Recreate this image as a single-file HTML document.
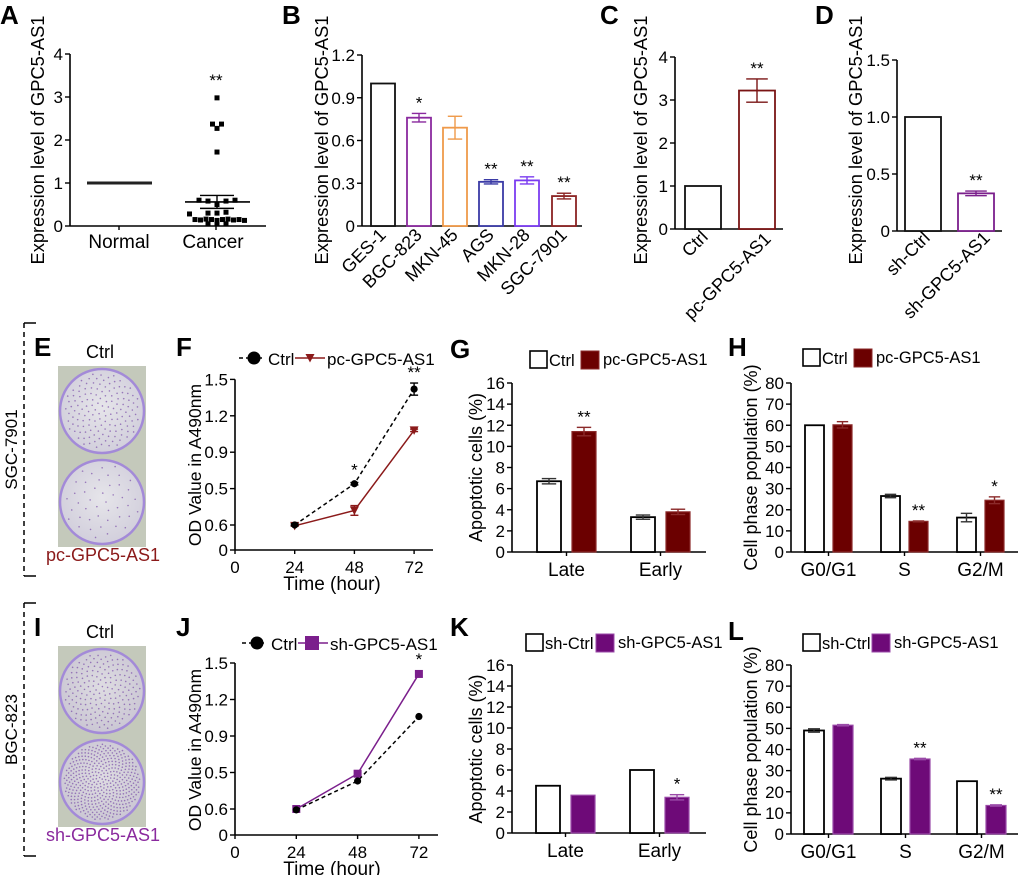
<!DOCTYPE html>
<html><head><meta charset="utf-8"><style>
html,body{margin:0;padding:0;background:#fff;}
svg{display:block;font-family:"Liberation Sans",Arial,sans-serif;}
</style></head><body>
<svg id="fig" width="1020" height="875" viewBox="0 0 1020 875" xmlns="http://www.w3.org/2000/svg">
<defs>
<radialGradient id="dishE" cx="50%" cy="45%" r="55%"><stop offset="0" stop-color="#e6e5ea"/><stop offset="1" stop-color="#d2cfdc"/></radialGradient>
<radialGradient id="dishI" cx="50%" cy="45%" r="55%"><stop offset="0" stop-color="#dedce2"/><stop offset="1" stop-color="#cbc7d4"/></radialGradient>
</defs>
</svg>
<script>
// ---------- data ----------
const cancerVals=[2.98,2.37,2.27,2.37,1.72,0.6,0.58,0.5,0.58,0.6,0.3,0.28,0.3,0.32,0.15,0.14,0.16,0.15,0.13,0.15,0.16,0.14,0.15,0.13,0.05,0.06,0.05];
const normalVal=1.0, cancerMean=0.56, cancerSem=0.15;
const bCats=["GES-1","BGC-823","MKN-45","AGS","MKN-28","SGC-7901"];
const bVals=[1.0,0.76,0.69,0.31,0.32,0.21];
const bErr=[0,0.03,0.08,0.015,0.025,0.02];
const bStars=["","*","","**","**","**"];
const cCats=["Ctrl","pc-GPC5-AS1"], cVals=[1.0,3.22], cErr=[0,0.27];
const dCats=["sh-Ctrl","sh-GPC5-AS1"], dVals=[1.0,0.33], dErr=[0,0.02];
const hours=[24,48,72];
const fCtrl=[0.6,0.94,1.72], fCtrlErr=[0.01,0.01,0.05];
const fPc=[0.58,0.72,1.38], fPcErr=[0.01,0.04,0.01];
const jCtrl=[0.58,0.83,1.36], jSh=[0.6,0.89,1.71];
const odTickVals=[0,0.6,0.9,1.2,1.5,1.8];
const odTickLabels=["0","0.6","0.5","0.9","1.2","1.5"];
const apoCats=["Late","Early"];
const gCtrl=[6.7,3.3], gCtrlErr=[0.25,0.2], gPc=[11.4,3.8], gPcErr=[0.4,0.25];
const kCtrl=[4.5,6.0], kSh=[3.6,3.4], kShErr=[0,0.25];
const cycCats=["G0/G1","S","G2/M"];
const hCtrl=[60,26.5,16.3], hCtrlErr=[0,0.8,2.0], hPc=[60.2,14.5,24.5], hPcErr=[1.5,0.2,1.6];
const lCtrl=[49,26.2,25], lCtrlErr=[0.8,0.6,0], lSh=[51.5,35.5,13.5], lShErr=[0.3,0.3,0.3];

// ---------- helpers ----------
const NS="http://www.w3.org/2000/svg";
const svg=document.getElementById('fig');
function mk(tag,a){const e=document.createElementNS(NS,tag);for(const k in a)e.setAttribute(k,a[k]);svg.appendChild(e);return e;}
function txt(x,y,s,size,o,name){o=o||{};
 const e=mk('text',{x:x,y:y,'font-size':size,fill:o.fill||'#000','text-anchor':o.anchor||'start','font-weight':o.weight||'normal'});
 if(o.rot!==undefined)e.setAttribute('transform','rotate('+o.rot+' '+x+' '+y+')');
 e.textContent=s;
 
 
 return e;}
function ln(x1,y1,x2,y2,st,w,name,dash){const e=mk('line',{x1:x1,y1:y1,x2:x2,y2:y2,stroke:st,'stroke-width':w});
 if(dash)e.setAttribute('stroke-dasharray',dash);
 
 
 return e;}
function rc(x,y,w,h,fill,st,sw,name){const e=mk('rect',{x:x,y:y,width:w,height:h,fill:fill,stroke:st,'stroke-width':sw});
 
 
 return e;}
function letter(x,y,s){txt(x,y,s,26,{weight:'bold'},'panel-label-'+s.toLowerCase());}
function errbar(cx,yHi,yLo,half,col,name){
 ln(cx,yHi,cx,yLo,col,1.4,name+'-stem');
 ln(cx-half,yHi,cx+half,yHi,col,1.4,name+'-cap-top');
 ln(cx-half,yLo,cx+half,yLo,col,1.4,name+'-cap-bottom');}
function yAxis(ax,y0,yTop,vals,labels,ymap,size,name){
 ln(ax,y0,ax,yTop,'#000',1.6,name+'-line');
 vals.forEach((v,i)=>{const y=ymap(v);
  ln(ax-5,y,ax,y,'#000',1.4,name+'-tick');
  txt(ax-7,y+6,labels[i],size,{anchor:'end'},name+'-tick-label');});}

// ---------- Panel A ----------
letter(0,24,'A');
(function(){const ax=70,y0=226,sc=43,ym=v=>y0-v*sc;
 yAxis(ax,y0,54,[0,1,2,3,4],["0","1","2","3","4"],ym,17,'a-y-axis');
 ln(ax,y0,266,y0,'#000',1.6,'a-x-axis');
 ln(119,y0,119,y0+4,'#000',1.4,'a-x-tick');ln(216,y0,216,y0+4,'#000',1.4,'a-x-tick');
 txt(119,248,'Normal',19,{anchor:'middle'},'a-x-label-normal');
 txt(213,248,'Cancer',19,{anchor:'middle'},'a-x-label-cancer');
 txt(44,140,'Expression level of GPC5-AS1',18.3,{anchor:'middle',rot:-90},'a-y-axis-title');
 ln(87,ym(normalVal),152,ym(normalVal),'#222',3,'a-normal-points');
 const groups={};
 cancerVals.forEach(v=>{const k=Math.round(v*5);groups[k]=(groups[k]||0)+1;});
 const seen={};
 cancerVals.forEach(v=>{const k=Math.round(v*5);const n=groups[k];seen[k]=(seen[k]||0);const i=seen[k]++;
  const x=217+(i-(n-1)/2)*(n>6?5.5:9);
  rc(x-2.5,ym(v)-2.5,5,5,'#000','none',0,'a-cancer-point');});
 ln(185,ym(cancerMean),250,ym(cancerMean),'#000',1.6,'a-mean-line');
 errbar(217,ym(cancerMean+cancerSem),ym(cancerMean-cancerSem),17,'#000','a-sem');
 txt(216,86,'**',17,{anchor:'middle'},'a-significance');
})();

// ---------- generic bar panel ----------
function barPanel(cfg){
 const ym=v=>cfg.y0-v/cfg.max*(cfg.y0-cfg.yTop);
 yAxis(cfg.ax,cfg.y0,cfg.yTop,cfg.tickVals,cfg.tickLabels,ym,cfg.fs||17,cfg.id+'-y-axis');
 ln(cfg.ax,cfg.y0,cfg.xEnd,cfg.y0,'#000',1.6,cfg.id+'-x-axis');
 cfg.vals.forEach((v,i)=>{const x1=cfg.x1[i],w=cfg.w,col=cfg.cols[i];
  const fill=cfg.fills?cfg.fills[i]:'#fff';
  rc(x1,ym(v),w,cfg.y0-ym(v),fill,col,1.8,cfg.id+'-bar-'+i);
  if(cfg.err&&cfg.err[i]>0)errbar(x1+w/2,ym(v+cfg.err[i]),ym(v-cfg.err[i]),w*0.3,col,cfg.id+'-error-'+i);
  if(cfg.stars&&cfg.stars[i])txt(x1+w/2,ym(v+(cfg.err?cfg.err[i]:0))-5,cfg.stars[i],17,{anchor:'middle'},cfg.id+'-significance-'+i);
 });
 return ym;}

// ---------- Panel B ----------
letter(282,24,'B');
(function(){const x1=[371,407,443,479,515,552];
 barPanel({id:'b',ax:362,y0:226,yTop:55,max:1.2,tickVals:[0,0.3,0.6,0.9,1.2],tickLabels:["0","0.3","0.6","0.9","1.2"],xEnd:582,
  vals:bVals,err:bErr,stars:bStars,x1:x1,w:24,cols:['#111','#8a2a9e','#ef9a4a','#3b3ba6','#7b3cf0','#8b2323'],fs:17});
 bCats.forEach((c,i)=>txt(x1[i]+16,236,c,18,{anchor:'end',rot:-45},'b-x-label'));
 txt(328,140,'Expression level of GPC5-AS1',18.3,{anchor:'middle',rot:-90},'b-y-axis-title');
})();

// ---------- Panel C ----------
letter(600,24,'C');
(function(){barPanel({id:'c',ax:675,y0:229,yTop:57,max:4,tickVals:[0,1,2,3,4],tickLabels:["0","1","2","3","4"],xEnd:783,
  vals:cVals,err:cErr,stars:["","**"],x1:[685,739],w:36,cols:['#111','#7a1414'],fs:17});
 txt(709,238,cCats[0],18,{anchor:'end',rot:-45},'c-x-label');
 txt(772,240,cCats[1],18,{anchor:'end',rot:-45},'c-x-label');
 txt(647,140,'Expression level of GPC5-AS1',18.3,{anchor:'middle',rot:-90},'c-y-axis-title');
})();

// ---------- Panel D ----------
letter(815,24,'D');
(function(){barPanel({id:'d',ax:897,y0:231,yTop:60,max:1.5,tickVals:[0,0.5,1.0,1.5],tickLabels:["0","0.5","1.0","1.5"],xEnd:1002,
  vals:dVals,err:dErr,stars:["","**"],x1:[905,958],w:36,cols:['#111','#7b1f8c'],fs:17});
 txt(931,239,dCats[0],18,{anchor:'end',rot:-45},'d-x-label');
 txt(991,239,dCats[1],18,{anchor:'end',rot:-45},'d-x-label');
 txt(862,140,'Expression level of GPC5-AS1',18.3,{anchor:'middle',rot:-90},'d-y-axis-title');
})();

// ---------- photos ----------
function photo(oy,id,grad,dense,col,label,cellLine,bTop,bBot){
 ln(24,bTop,24,bBot,'#000',1.5,id+'-bracket','5,4');
 ln(24,bTop,36,bTop,'#000',1.5,id+'-bracket-top');ln(24,bBot,36,bBot,'#000',1.5,id+'-bracket-bottom');
 txt(17,(bTop+bBot)/2,cellLine,17,{anchor:'middle',rot:-90},id+'-cell-line-label');
 txt(100,oy-8,'Ctrl',18,{anchor:'middle'},id+'-ctrl-label');
 rc(58,oy,88,181,'#c4c9bb','none',0,id+'-photo');
 [oy+45,oy+136].forEach((cy,k)=>{
  const c=mk('circle',{cx:102,cy:cy,r:42,fill:'url(#'+grad+')',stroke:'#a38ad8','stroke-width':2.5});
  
  
  const n=dense[k];
  for(let i=0;i<n;i++){const a=i*2.39996,r=38*Math.sqrt((i+0.5)/n);
   const d=mk('circle',{cx:102+r*Math.cos(a),cy:cy+r*Math.sin(a),r:0.8,fill:'#7a4fa8',opacity:0.7});
   
   }
 });
 txt(103,oy+195,label,18,{anchor:'middle',fill:col},id+'-treatment-label');
}
letter(34,356,'E');
photo(366,'e','dishE',[140,45],'#8b1a1a','pc-GPC5-AS1','SGC-7901',323,576);
letter(34,636,'I');
photo(646,'i','dishI',[180,420],'#8a2a9e','sh-GPC5-AS1','BGC-823',603,856);

// ---------- line panels ----------
function linePanel(cfg){
 const ym=v=>v<=0.6?cfg.y0-v/0.6*cfg.gap:cfg.y0-cfg.gap-(v-0.6)/0.3*cfg.step;
 const xm=h=>cfg.ax+h/24*cfg.xs;
 yAxis(cfg.ax,cfg.y0,ym(1.8),odTickVals,odTickLabels,ym,17,cfg.id+'-y-axis');
 ln(cfg.ax,cfg.y0,cfg.xEnd,cfg.y0,'#000',1.6,cfg.id+'-x-axis');
 [0,24,48,72].forEach(h=>{ln(xm(h),cfg.y0,xm(h),cfg.y0+4,'#000',1.4,cfg.id+'-x-tick');
  txt(xm(h),cfg.y0+23,String(h),17,{anchor:'middle'},cfg.id+'-x-tick-label');});
 txt(cfg.ax+97,cfg.y0+40,'Time (hour)',19,{anchor:'middle'},cfg.id+'-x-axis-title');
 txt(cfg.ax-34,cfg.y0-85,'OD Value in A490nm',17.5,{anchor:'middle',rot:-90},cfg.id+'-y-axis-title');
 return {ym:ym,xm:xm};}
function series(pts,xm,ym,col,dash,marker,name,errs){
 const p=mk('polyline',{points:pts.map((v,i)=>xm(hours[i])+','+ym(v)).join(' '),fill:'none',stroke:col,'stroke-width':1.5});
 if(dash)p.setAttribute('stroke-dasharray',dash);
 
 
 pts.forEach((v,i)=>{const x=xm(hours[i]),y=ym(v);
  if(errs&&errs[i]>0.005)errbar(x,ym(v+errs[i]),ym(v-errs[i]),4,col,name+'-error');
  marker(x,y,name);});}
function circ(x,y,name){const c=mk('circle',{cx:x,cy:y,r:3.6,fill:'#000'});
 
 }
function tri(col){return (x,y,name)=>{const t=mk('polygon',{points:(x-4.5)+','+(y-4)+' '+(x+4.5)+','+(y-4)+' '+x+','+(y+4.5),fill:col});
 
 };}
function sq(col){return (x,y,name)=>{const t=mk('rect',{x:x-4,y:y-4,width:8,height:8,fill:col});
 
 };}

letter(176,356,'F');
(function(){const a=linePanel({id:'f',ax:235,y0:550,gap:25,step:36.4,xs:59.7,xEnd:433});
 series(fPc,a.xm,a.ym,'#8b1a1a',null,tri('#8b1a1a'),'f-pc',fPcErr);
 series(fCtrl,a.xm,a.ym,'#000','4,3',circ,'f-ctrl',fCtrlErr);
 txt(a.xm(48),a.ym(fCtrl[1])-8,'*',17,{anchor:'middle'},'f-significance');
 txt(a.xm(72),a.ym(fCtrl[2]+fCtrlErr[2])-5,'**',17,{anchor:'middle'},'f-significance');
 ln(239,358,262,358,'#000',1.5,'f-legend-ctrl-line','4,3');
 const c=mk('circle',{cx:254,cy:358,r:6.5,fill:'#000'});
 
 
 txt(268,365,'Ctrl',17,{},'f-legend-ctrl-label');
 ln(295,358,325,358,'#8b1a1a',1.5,'f-legend-pc-line');
 tri('#8b1a1a')(310,358,'f-legend-pc');
 txt(327,365,'pc-GPC5-AS1',17,{},'f-legend-pc-label');
})();
letter(176,636,'J');
(function(){const a=linePanel({id:'j',ax:235,y0:835,gap:26,step:36.5,xs:61.3,xEnd:438});
 series(jSh,a.xm,a.ym,'#7b1f8c',null,sq('#7b1f8c'),'j-sh');
 series(jCtrl,a.xm,a.ym,'#000','4,3',circ,'j-ctrl');
 txt(a.xm(72),a.ym(jSh[2])-9,'*',17,{anchor:'middle'},'j-significance');
 ln(242,643,264,643,'#000',1.5,'j-legend-ctrl-line','4,3');
 const c=mk('circle',{cx:257,cy:643,r:6.5,fill:'#000'});
 
 
 txt(271,650,'Ctrl',17,{},'j-legend-ctrl-label');
 ln(298,643,328,643,'#7b1f8c',1.5,'j-legend-sh-line');
 rc(305,636,14,14,'#7b1f8c','none',0,'j-legend-sh-marker');
 txt(330,650,'sh-GPC5-AS1',17,{},'j-legend-sh-label');
})();

// ---------- grouped bar panels ----------
function grouped(cfg){
 const ym=v=>cfg.y0-v/cfg.max*(cfg.y0-cfg.yTop);
 yAxis(cfg.ax,cfg.y0,cfg.yTop,cfg.tickVals,cfg.tickVals.map(String),ym,17,cfg.id+'-y-axis');
 ln(cfg.ax,cfg.y0,cfg.xEnd,cfg.y0,'#000',1.6,cfg.id+'-x-axis');
 cfg.cats.forEach((c,i)=>{const gx=cfg.gx[i];
  const x1=gx,x2=gx+cfg.w+cfg.gap;
  rc(x1,ym(cfg.a[i]),cfg.w,cfg.y0-ym(cfg.a[i]),'#fff','#000',1.8,cfg.id+'-bar-ctrl-'+i);
  if(cfg.aErr&&cfg.aErr[i]>0)errbar(x1+cfg.w/2,ym(cfg.a[i]+cfg.aErr[i]),ym(cfg.a[i]-cfg.aErr[i]),cfg.w*0.3,'#333',cfg.id+'-error-ctrl');
  rc(x2,ym(cfg.b[i]),cfg.w,cfg.y0-ym(cfg.b[i]),cfg.col,cfg.edge,1.2,cfg.id+'-bar-treat-'+i);
  if(cfg.bErr&&cfg.bErr[i]>0)errbar(x2+cfg.w/2,ym(cfg.b[i]+cfg.bErr[i]),ym(cfg.b[i]-cfg.bErr[i]),cfg.w*0.3,cfg.edge,cfg.id+'-error-treat');
  if(cfg.stars[i])txt(x2+cfg.w/2,ym(cfg.b[i]+(cfg.bErr?cfg.bErr[i]:0))-5,cfg.stars[i],17,{anchor:'middle'},cfg.id+'-significance');
  const cx=(x1+x2+cfg.w)/2;
  ln(cx,cfg.y0,cx,cfg.y0+4,'#000',1.4,cfg.id+'-x-tick');
  txt(cx,cfg.y0+24,c,19,{anchor:'middle'},cfg.id+'-x-label');
 });
 rc(cfg.lx,cfg.ly,17,17,'#fff','#000',1.6,cfg.id+'-legend-ctrl-swatch');
 txt(cfg.lx+19,cfg.ly+15,cfg.la,16.5,{},cfg.id+'-legend-ctrl-label');
 rc(cfg.lx2,cfg.ly,18,18,cfg.col,cfg.edge,1,cfg.id+'-legend-treat-swatch');
 txt(cfg.lx2+22,cfg.ly+14,cfg.lb,16.5,{},cfg.id+'-legend-treat-label');
 txt(cfg.tx,(cfg.y0+cfg.yTop)/2,cfg.title,18,{anchor:'middle',rot:-90},cfg.id+'-y-axis-title');
}
letter(450,358,'G');
grouped({id:'g',ax:512,y0:552,yTop:383,max:16,tickVals:[0,2,4,6,8,10,12,14,16],xEnd:706,cats:apoCats,gx:[537,631],w:24,gap:11,
 a:gCtrl,aErr:gCtrlErr,b:gPc,bErr:gPcErr,stars:['**',''],col:'#6b0000',edge:'#8b2a2a',
 lx:530,ly:351,la:'Ctrl',lx2:581,lb:'pc-GPC5-AS1',title:'Apoptotic cells (%)',tx:482});
letter(728,356,'H');
grouped({id:'h',ax:791,y0:552,yTop:383,max:80,tickVals:[0,10,20,30,40,50,60,70,80],xEnd:1018,cats:cycCats,gx:[805,881,957],w:19,gap:9,
 a:hCtrl,aErr:hCtrlErr,b:hPc,bErr:hPcErr,stars:['','**','*'],col:'#6b0000',edge:'#8b2a2a',
 lx:803,ly:349,la:'Ctrl',lx2:854,lb:'pc-GPC5-AS1',title:'Cell phase population (%)',tx:757});
letter(450,636,'K');
grouped({id:'k',ax:512,y0:833,yTop:665,max:16,tickVals:[0,2,4,6,8,10,12,14,16],xEnd:706,cats:apoCats,gx:[536,630],w:24,gap:11,
 a:kCtrl,aErr:null,b:kSh,bErr:kShErr,stars:['','*'],col:'#6e0a78',edge:'#9a4aa8',
 lx:526,ly:634,la:'sh-Ctrl',lx2:596,lb:'sh-GPC5-AS1',title:'Apoptotic cells (%)',tx:482});
letter(728,640,'L');
grouped({id:'l',ax:791,y0:834,yTop:665,max:80,tickVals:[0,10,20,30,40,50,60,70,80],xEnd:1018,cats:cycCats,gx:[804,881,957],w:20,gap:9,
 a:lCtrl,aErr:lCtrlErr,b:lSh,bErr:lShErr,stars:['','**','**'],col:'#6e0a78',edge:'#9a4aa8',
 lx:803,ly:634,la:'sh-Ctrl',lx2:872,lb:'sh-GPC5-AS1',title:'Cell phase population (%)',tx:757});
</script>
</body></html>
